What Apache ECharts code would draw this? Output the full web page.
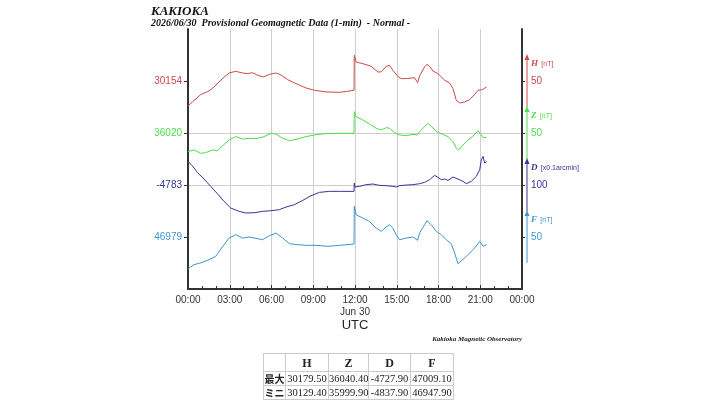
<!DOCTYPE html>
<html>
<head>
<meta charset="utf-8">
<script src="https://cdn.jsdelivr.net/npm/echarts@6/dist/echarts.min.js"></script>
<style>
    body { margin: 0; background: #fff; }
    #chart { width: 720px; height: 401px; }
    #stats {
        position: absolute; left: 263px; top: 353px;
        border-collapse: collapse; table-layout: fixed;
        font-family: 'Liberation Serif', 'DejaVu Serif', serif;
        font-size: 10.5px; line-height: 12px; color: #222;
    }
    #stats td, #stats th { border: 1px solid #ccc; padding: 0; height: 13px; text-align: center; white-space: nowrap; overflow: hidden; }
    #stats th { font-size: 12px; height: 17px; line-height: 14px; }
    #stats td.lab { font-family: 'Noto Sans CJK JP', sans-serif; font-size: 10px; font-weight: bold; }
</style>
</head>
<body>
<div id="chart"></div>
<table id="stats"></table>
<script>
// 成分名・基準値（左の目盛り）・右の目盛り幅
const compNames = ['H', 'Z', 'D', 'F'];
const baseVals = [30154, 36020, -4783, 46979];
const scaleVals = [50, 50, 100, 50];
const unitText = ['[nT]', '[nT]', '[x0.1arcmin]', '[nT]'];
const compColors = ['#d04848', '#4cdc4c', '#35359a', '#3d96d2'];

// H 成分 (時刻は UTC の時)
const hTime = [0, 0.31, 0.91, 1.51, 1.87, 2.47, 2.95, 3.43, 3.91, 4.28, 4.64, 5.0, 5.41, 5.84, 6.32, 6.68, 7.16, 7.76, 8.48, 9.08,
    9.92, 10.88, 11.4, 11.93, 11.95, 12.08, 12.3, 12.56, 13.16, 13.64, 13.88, 14.24, 14.48, 14.72, 15.08, 15.32, 15.68, 16.28, 16.5, 16.64,
    17.0, 17.17, 17.36, 17.6, 17.96, 18.44, 18.8, 19.04, 19.28, 19.52, 19.88, 20.24, 20.6, 20.84, 21.16, 21.45];
const hVals = [30130.0, 30133.8, 30140.9, 30144.4, 30148.3, 30156.3, 30161.7, 30163.3, 30161.7, 30161.1, 30162.0, 30159.5, 30157.9, 30160.4, 30161.7, 30159.8, 30155.3, 30151.5, 30147.3, 30145.1,
    30143.5, 30143.1, 30144.0, 30145.1, 30178.7, 30172.3, 30171.5, 30170.7, 30168.1, 30162.7, 30162.7, 30168.1, 30169.1, 30164.3, 30158.5, 30156.3, 30156.3, 30157.2, 30152.4, 30158.8,
    30167.5, 30170.1, 30168.1, 30163.6, 30161.1, 30154.7, 30152.1, 30146.7, 30135.4, 30132.9, 30133.8, 30136.1, 30141.2, 30145.1, 30145.7, 30148.3];

// Z 成分
const zTime = [0, 0.43, 0.91, 1.27, 1.75, 2.11, 2.47, 2.95, 3.43, 3.92, 4.40, 4.88, 5.48, 5.96, 6.32, 6.80, 7.28, 7.76, 8.48, 9.20,
    9.92, 10.88, 11.93, 11.95, 12.08, 12.56, 13.04, 13.52, 13.88, 14.24, 14.48, 14.84, 15.2, 15.68, 16.16, 16.5, 16.64, 17.0, 17.24, 17.48,
    17.84, 18.32, 18.68, 19.04, 19.28, 19.45, 19.76, 20.12, 20.48, 20.84, 20.96, 21.2, 21.45];
const zVals = [36002.1, 36003.7, 36000.5, 36001.1, 36003.7, 36003.0, 36007.5, 36013.3, 36016.5, 36014.2, 36014.9, 36014.6, 36016.5, 36019.7, 36019.0, 36014.9, 36012.6, 36013.9, 36016.5, 36018.4,
    36019.4, 36019.7, 36019.7, 36040.5, 36035.7, 36032.5, 36028.7, 36024.5, 36022.9, 36025.1, 36024.5, 36020.3, 36018.1, 36017.4, 36018.7, 36018.1, 36021.3, 36026.1, 36029.3, 36026.7,
    36021.3, 36018.7, 36016.5, 36011.7, 36005.3, 36003.7, 36008.5, 36013.3, 36017.1, 36022.2, 36023.5, 36015.8, 36015.8];

// D 成分 (0.1 arcmin)
const dTime = [0, 0.31, 0.67, 1.15, 1.63, 2.11, 2.59, 3.07, 3.68, 4.16, 4.76, 5.36, 5.96, 6.56, 7.04, 7.64, 8.24, 8.84, 9.44, 10.16,
    10.88, 11.93, 11.95, 12.0, 12.32, 12.8, 13.28, 13.76, 14.24, 14.72, 14.96, 15.2, 15.68, 16.16, 16.64, 17.0, 17.36, 17.72, 17.96, 18.2,
    18.44, 18.68, 19.04, 19.4, 19.76, 20.0, 20.36, 20.72, 20.96, 21.08, 21.2, 21.32, 21.45];
const dVals = [-4737.6, -4745.9, -4758.7, -4771.5, -4785.6, -4799.7, -4814.5, -4827.3, -4833.7, -4836.9, -4836.3, -4833.7, -4832.4, -4830.5, -4825.4, -4820.9, -4812.6, -4803.6, -4797.2, -4795.2,
    -4795.2, -4795.2, -4779.2, -4786.9, -4785.6, -4782.4, -4781.1, -4783.7, -4784.3, -4785.6, -4786.9, -4784.3, -4783.1, -4782.4, -4780.5, -4777.9, -4772.8, -4764.5, -4768.3, -4772.8,
    -4771.5, -4774.1, -4767.7, -4771.5, -4776.0, -4780.5, -4776.0, -4766.4, -4753.6, -4734.3, -4727.9, -4740.8, -4737.6];

// F 成分
const fTime = [0, 0.43, 1.03, 1.51, 1.99, 2.47, 2.95, 3.43, 3.92, 4.40, 4.88, 5.36, 5.84, 6.32, 6.80, 7.28, 7.88, 8.48, 9.20, 10.04,
    10.88, 11.93, 11.95, 12.08, 12.56, 13.04, 13.52, 13.88, 14.24, 14.48, 14.72, 14.96, 15.2, 15.68, 16.16, 16.5, 16.64, 17.0, 17.17, 17.48,
    17.84, 18.2, 18.56, 18.92, 19.16, 19.4, 19.52, 19.88, 20.24, 20.6, 20.96, 21.2, 21.45];
const fVals = [46948.5, 46952.4, 46954.6, 46957.2, 46960.4, 46969.4, 46978.0, 46981.2, 46978.0, 46979.0, 46977.7, 46976.4, 46980.2, 46982.8, 46978.0, 46972.6, 46971.6, 46971.0, 46971.0, 46970.0,
    46971.0, 46972.2, 47008.5, 47000.4, 46997.2, 46994.0, 46987.6, 46984.4, 46988.6, 46990.8, 46987.6, 46981.2, 46976.4, 46978.0, 46979.0, 46975.8, 46982.8, 46990.8, 46994.7, 46990.8,
    46984.4, 46981.2, 46976.4, 46972.6, 46963.6, 46953.3, 46952.4, 46958.8, 46963.6, 46968.4, 46974.8, 46970.0, 46971.6];

// 表：最大・最小
const rowLabels = ['最大', 'ミニ'];
const maxVals = ['30179.50', '36040.40', '-4727.90', '47009.10'];
const minVals = ['30129.40', '35999.90', '-4837.90', '46947.90'];

const seriesTime = [hTime, zTime, dTime, fTime];
const seriesVals = [hVals, zVals, dVals, fVals];

// 段の数（H が 4 段目、F が 1 段目）
const LEVELS = 5;
const levelOf = i => 4 - i;
const pad2 = n => String(n).padStart(2, '0');

const chart = echarts.init(document.getElementById('chart'), null, { renderer: 'canvas' });

// 成分ごとの縦軸（非表示）：基準値が各段の格子線に来るように
const compAxes = compNames.map((n, i) => ({
    type: 'value',
    show: false,
    min: baseVals[i] - levelOf(i) * scaleVals[i],
    max: baseVals[i] + (LEVELS - levelOf(i)) * scaleVals[i]
}));

const levelIndex = v => 4 - Math.round(Number(v));

const option = {
    animation: false,
    backgroundColor: '#fff',
    title: [
        {
            text: 'KAKIOKA', left: 146, top: 0,
            textStyle: { fontFamily: 'Liberation Serif', fontStyle: 'italic', fontWeight: 'bold', fontSize: 13, color: '#111' }
        },
        {
            text: '2026/06/30  Provisional Geomagnetic Data (1-min)  - Normal -', left: 146, top: 13,
            textStyle: { fontFamily: 'Liberation Serif', fontStyle: 'italic', fontWeight: 'bold', fontSize: 10, color: '#111' }
        }
    ],
    grid: { left: 188, top: 29, width: 334, height: 260 },
    xAxis: {
        type: 'value', min: 0, max: 24, interval: 3,
        axisLine: { lineStyle: { color: '#333', width: 2 } },
        axisTick: { inside: true, length: 4, lineStyle: { color: '#333' } },
        minorTick: { show: true, splitNumber: 3, length: 3, lineStyle: { color: '#333' } },
        splitLine: { show: true, lineStyle: { color: '#cfcfcf', width: 1 } },
        axisLabel: {
            fontFamily: 'Liberation Sans', fontSize: 10, color: '#333', margin: 5, lineHeight: 12,
            formatter: v => pad2(v % 24) + ':00' + (v === 12 ? '\nJun 30' : '')
        }
    },
    yAxis: [
        {
            type: 'value', position: 'left', min: 0, max: LEVELS, interval: 1,
            axisLine: { show: true, lineStyle: { color: '#333', width: 2 } },
            axisTick: { show: true, length: 4, customValues: [1, 2, 3, 4], lineStyle: { color: '#333' } },
            splitLine: { show: true, showMinLine: false, showMaxLine: false, lineStyle: { color: '#cfcfcf', width: 1 } },
            axisLabel: {
                customValues: [1, 2, 3, 4], margin: 6,
                fontFamily: 'Liberation Sans', fontSize: 10,
                formatter: v => { const i = levelIndex(v); return (i >= 0 && i < 4) ? String(baseVals[i]) : ''; },
                color: v => compColors[levelIndex(v)] || '#333'
            }
        },
        {
            type: 'value', position: 'right', min: 0, max: LEVELS, interval: 1,
            axisLine: { show: true, lineStyle: { color: '#333', width: 2 } },
            axisTick: { show: true, length: 3, customValues: [1, 2, 3, 4], lineStyle: { color: '#333' } },
            splitLine: { show: false },
            axisLabel: {
                customValues: [1, 2, 3, 4], margin: 9,
                fontFamily: 'Liberation Sans', fontSize: 10,
                formatter: v => { const i = levelIndex(v); return (i >= 0 && i < 4) ? String(scaleVals[i]) : ''; },
                color: v => compColors[levelIndex(v)] || '#333'
            }
        },
        ...compAxes
    ],
    series: compNames.map((name, i) => ({
        name,
        type: 'line',
        yAxisIndex: 2 + i,
        data: seriesTime[i].map((t, k) => [t, seriesVals[i][k]]),
        showSymbol: false,
        symbol: 'none',
        silent: true,
        z: 3,
        lineStyle: { color: compColors[i], width: 1 },
        itemStyle: { color: compColors[i] }
    }))
};
chart.setOption(option);

// 右側の矢印と単位（位置は軸から換算）
const xR = chart.convertToPixel({ xAxisIndex: 0 }, 24) + 5;
const graphics = [];
compNames.forEach((n, i) => {
    const lv = levelOf(i);
    const yTop = chart.convertToPixel({ yAxisIndex: 0 }, lv + 0.5);
    const yBot = chart.convertToPixel({ yAxisIndex: 0 }, lv - 0.5);
    graphics.push({
        type: 'line', silent: true,
        shape: { x1: xR, y1: yTop + 2, x2: xR, y2: yBot },
        style: { stroke: compColors[i], lineWidth: 1 }
    });
    graphics.push({
        type: 'polygon', silent: true,
        shape: { points: [[xR, yTop - 1], [xR - 2.5, yTop + 5], [xR + 2.5, yTop + 5]] },
        style: { fill: compColors[i] }
    });
    graphics.push({
        type: 'text', silent: true, x: xR + 4, y: yTop + 9,
        style: {
            text: '{a|' + n + '} {b|' + unitText[i] + '}',
            verticalAlign: 'middle',
            rich: {
                a: { fontFamily: 'Liberation Serif', fontStyle: 'italic', fontWeight: 'bold', fontSize: 9, fill: compColors[i] },
                b: { fontFamily: 'Liberation Sans', fontSize: 7, fill: compColors[i] }
            }
        }
    });
});
// 横軸の名前 UTC
graphics.push({
    type: 'text', silent: true,
    x: chart.convertToPixel({ xAxisIndex: 0 }, 12), y: 325,
    style: {
        text: 'UTC', align: 'center', verticalAlign: 'middle',
        fontFamily: 'Liberation Sans', fontSize: 13, fill: '#222'
    }
});
graphics.push({
    type: 'text', silent: true, right: 198, top: 336,
    style: {
        text: 'Kakioka Magnetic Observatory',
        fontFamily: 'Liberation Serif', fontStyle: 'italic', fontWeight: 'bold', fontSize: 7, fill: '#222'
    }
});
chart.setOption({ graphic: graphics });

// 表を描く
const table = document.getElementById('stats');
const colW = [22, 43, 40, 42, 43];
table.innerHTML =
    '<colgroup>' + colW.map(w => `<col style="width:${w}px">`).join('') + '</colgroup>' +
    '<tr>' + ['', ...compNames].map(c => `<th>${c}</th>`).join('') + '</tr>' +
    [maxVals, minVals].map((row, r) =>
        '<tr><td class="lab">' + rowLabels[r] + '</td>' + row.map(v => `<td>${v}</td>`).join('') + '</tr>'
    ).join('');
table.style.width = colW.reduce((a, b) => a + b, 0) + 'px';
</script>
</body>
</html>
